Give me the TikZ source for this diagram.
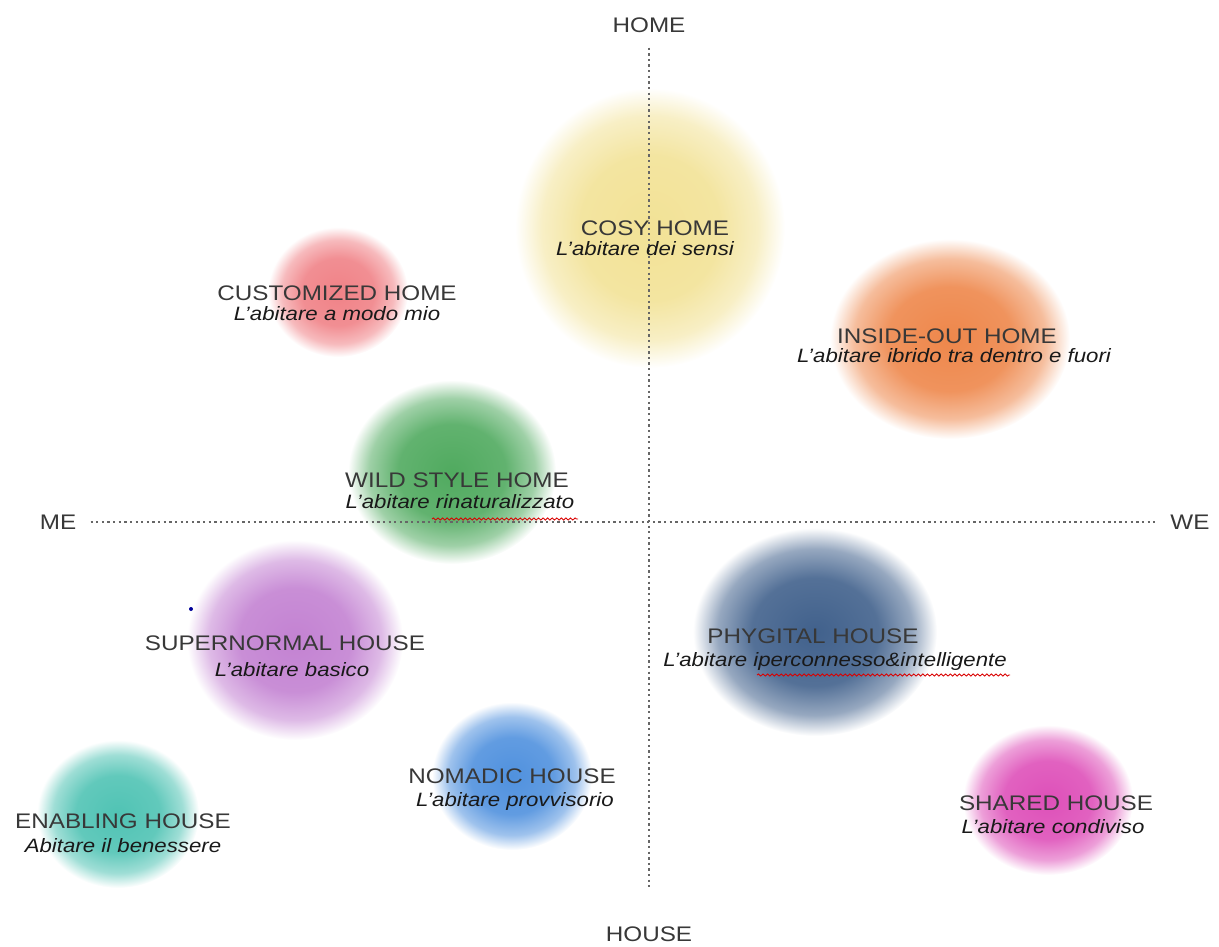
\documentclass[tikz,border=0pt]{standalone}
\usepackage{fontspec}
\setmainfont{Liberation Sans}
\newfontfamily\headfont[FakeStretch=1.15]{Liberation Sans}
\newfontfamily\subfont[FakeStretch=1.15]{Liberation Sans}
\usetikzlibrary{decorations.pathmorphing}

\definecolor{cosyc}{RGB}{242,226,150}
\definecolor{customc}{RGB}{240,130,135}
\definecolor{insidec}{RGB}{238,135,75}
\definecolor{wildc}{RGB}{80,170,95}
\definecolor{superc}{RGB}{195,130,210}
\definecolor{phygic}{RGB}{65,97,140}
\definecolor{nomadc}{RGB}{80,145,222}
\definecolor{enablec}{RGB}{80,195,180}
\definecolor{sharedc}{RGB}{222,80,185}

\pgfdeclareradialshading[blobc]{blob}{\pgfpoint{0bp}{0bp}}{color(0bp)=(blobc); color(13bp)=(blobc!90!white); color(20bp)=(blobc!55!white); color(25bp)=(white); color(50bp)=(white)}

\tikzset{
  blob/.style={shading=blob, /utils/exec={\colorlet{blobc}{#1}}},
  housename/.style={font=\headfont\fontsize{12}{14}\selectfont, text=black!78, inner sep=0pt, anchor=base},
  housesub/.style={font=\subfont\itshape\fontsize{11}{13}\selectfont, text=black!90, inner sep=0pt, anchor=base},
  axislabel/.style={font=\headfont\fontsize{12}{14}\selectfont, text=black!78, inner sep=0pt, anchor=base},
  axis/.style={black!60, line width=1.3pt, dash pattern=on 1.3pt off 1.9pt},
  squiggle/.style={red!85!black, line width=0.5pt, decorate, decoration={snake, amplitude=0.6pt, segment length=2.6pt}}
}

\begin{document}
\begin{tikzpicture}[x=0.02cm, y=-0.02cm]
    \useasboundingbox (0,0) rectangle (1219,946);
    % blobs
    \shade[blob=cosyc] (650,228) ellipse [x radius=135, y radius=140];
    \shade[blob=customc] (338,292) ellipse [x radius=70, y radius=65];
    \shade[blob=insidec] (950,339) ellipse [x radius=120, y radius=100];
    \shade[blob=wildc] (452,472) ellipse [x radius=104, y radius=92];
    \shade[blob=superc] (295,640) ellipse [x radius=108, y radius=100];
    \shade[blob=phygic] (815,632) ellipse [x radius=122, y radius=104];
    \shade[blob=nomadc] (512,776) ellipse [x radius=80, y radius=74];
    \shade[blob=enablec] (118,814) ellipse [x radius=81, y radius=74];
    \shade[blob=sharedc] (1048,800) ellipse [x radius=85, y radius=75];
    \fill[blue!60!black] (191,609) circle [radius=2];

    % axes
    \node[axislabel] (home) at (649,33) {HOME};
    \node[axislabel] (house) at (649,941) {HOUSE};
    \node[axislabel] (me) at (58,529) {ME};
    \node[axislabel] (we) at (1190,529) {WE};
    \draw[axis, shorten <=8pt, shorten >=22pt] (home.south) -- (house.north);
    \draw[axis, shorten <=8pt, shorten >=7pt] (me.east) -- (we.west);

    % names
    \node[housename] (cosy) at (655,235) {COSY HOME};
    \node[housesub] (cosysub) at (645,255) {L’abitare dei sensi};
    \node[housename] (custom) at (337,300) {CUSTOMIZED HOME};
    \node[housesub] (customsub) at (337,320) {L’abitare a modo mio};
    \node[housename] (inside) at (947,343) {INSIDE-OUT HOME};
    \node[housesub] (insidesub) at (954,362) {L’abitare ibrido tra dentro e fuori};
    \node[housename] (wild) at (457,487) {WILD STYLE HOME};
    \node[housesub] (wildsub) at (460,508) {L’abitare rinaturalizzato};
    \node[housename] (super) at (285,650) {SUPERNORMAL HOUSE};
    \node[housesub] (supersub) at (292,676) {L’abitare basico};
    \node[housename] (phygi) at (813,643) {PHYGITAL HOUSE};
    \node[housesub] (phygisub) at (835,666) {L’abitare iperconnesso\&intelligente};
    \node[housename] (nomad) at (512,783) {NOMADIC HOUSE};
    \node[housesub] (nomadsub) at (515,806) {L’abitare provvisorio};
    \node[housename] (enable) at (123,828) {ENABLING HOUSE};
    \node[housesub] (enablesub) at (123,852) {Abitare il benessere};
    \node[housename] (shared) at (1056,810) {SHARED HOUSE};
    \node[housesub] (sharedsub) at (1053,833) {L’abitare condiviso};

    % spell-check marks
    \draw[squiggle] (432,519) -- (578,519);
    \draw[squiggle] (757,675) -- (1010,675);
\end{tikzpicture}
\end{document}
